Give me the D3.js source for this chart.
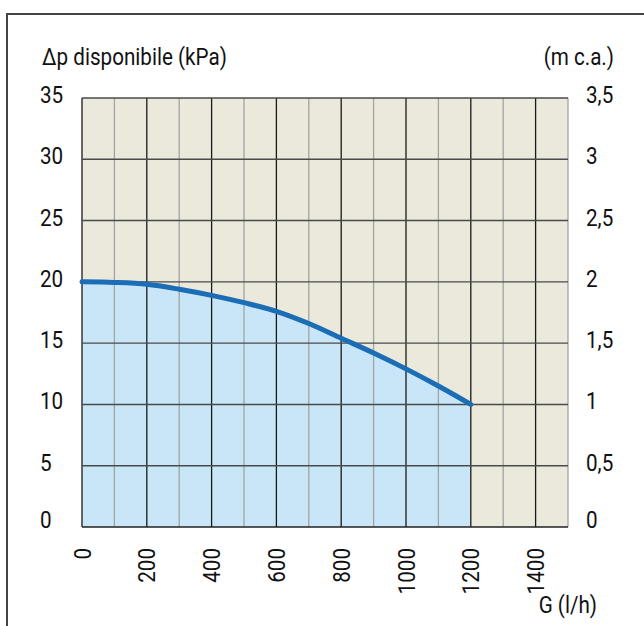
<!DOCTYPE html>
<html>
<head>
<meta charset="utf-8">
<script src="https://cdn.jsdelivr.net/npm/d3@7"></script>
<style>
  body { margin: 0; background: #fff; }
  svg text { font-family: 'Roboto', 'Liberation Sans', sans-serif; font-size: 24px; fill: #111; }
</style>
</head>
<body>
<div class="chart-node"></div>
<script>
const width = 644, height = 626
const squeeze = 0.86   // condensed look of the original lettering

// curve: flow G (l/h) vs available head (kPa)
const flow = [0, 100, 200, 300, 400, 500, 600, 700, 800, 900, 1000, 1100, 1200]
const head = [20, 19.95, 19.8, 19.4, 18.9, 18.3, 17.6, 16.6, 15.4, 14.2, 12.9, 11.5, 10]

const kpaTicks = [0, 5, 10, 15, 20, 25, 30, 35]
const mcaLabels = ['0', '0,5', '1', '1,5', '2', '2,5', '3', '3,5']
const flowTicks = [0, 200, 400, 600, 800, 1000, 1200, 1400]
const gridX = d3.range(0, 1501, 100)

const svg = d3.select('.chart-node').append('svg')
    .attr('width', width)
    .attr('height', height)

const x = d3.scaleLinear().domain([0, 1500]).range([82, 568])
const y = d3.scaleLinear().domain([0, 35]).range([527, 98])

// open frame (only top and left edges are inside the picture)
svg.append('path')
    .attr('d', `M7,${height} L7,14 L${width},14`)
    .attr('fill', 'none')
    .attr('stroke', '#444')
    .attr('stroke-width', 2)

// plot background
svg.append('rect')
    .attr('x', x(0)).attr('y', y(35))
    .attr('width', x(1500) - x(0)).attr('height', y(0) - y(35))
    .attr('fill', '#ebe8dc')

const pts = flow.map((g, i) => ({ g: g, p: head[i] }))

const area = d3.area()
    .x(d => x(d.g))
    .y0(y(0))
    .y1(d => y(d.p))
    .curve(d3.curveMonotoneX)

svg.append('path')
    .datum(pts)
    .attr('d', area)
    .attr('fill', '#c9e6f8')

// vertical grid: darker every 200, grey in between
svg.append('g').selectAll('line')
    .data(gridX)
    .enter().append('line')
    .attr('x1', d => x(d)).attr('x2', d => x(d))
    .attr('y1', y(0)).attr('y2', y(35))
    .attr('stroke', d => d % 200 === 0 ? '#1a1a1a' : '#a3a3a3')
    .attr('stroke-width', 1.3)

// horizontal grid
svg.append('g').selectAll('line')
    .data(kpaTicks)
    .enter().append('line')
    .attr('x1', x(0)).attr('x2', x(1500))
    .attr('y1', d => y(d)).attr('y2', d => y(d))
    .attr('stroke', d => d === 0 ? '#222' : '#4a4a4a')
    .attr('stroke-width', 1.4)

const line = d3.line()
    .x(d => x(d.g))
    .y(d => y(d.p))
    .curve(d3.curveMonotoneX)

svg.append('path')
    .datum(pts)
    .attr('d', line)
    .attr('fill', 'none')
    .attr('stroke', '#1b6db6')
    .attr('stroke-width', 5)
    .attr('stroke-linecap', 'round')

function labelY(d) { return y(d) + (d === 0 ? 1 : 5) }

// left labels (kPa)
svg.append('g').selectAll('text')
    .data(kpaTicks)
    .enter().append('text')
    .attr('transform', d => `translate(40,${labelY(d)}) scale(${squeeze},1)`)
    .text(d => d)

// right labels (m c.a.)
svg.append('g').selectAll('text')
    .data(kpaTicks)
    .enter().append('text')
    .attr('transform', d => `translate(586,${labelY(d)}) scale(${squeeze},1)`)
    .text((d, i) => mcaLabels[i])

// bottom labels, rotated
svg.append('g').selectAll('text')
    .data(flowTicks)
    .enter().append('text')
    .attr('transform', d => `translate(${x(d)},548) rotate(-90) scale(${squeeze},1)`)
    .attr('dy', '0.36em')
    .style('text-anchor', 'end')
    .text(d => d)

svg.append('text')
    .attr('transform', `translate(42,65) scale(${squeeze},1)`)
    .text('\u0394p disponibile (kPa)')

svg.append('text')
    .attr('transform', `translate(614,65) scale(${squeeze},1)`)
    .style('text-anchor', 'end')
    .text('(m c.a.)')

svg.append('text')
    .attr('transform', `translate(597,613) scale(${squeeze},1)`)
    .style('text-anchor', 'end')
    .text('G (l/h)')
</script>
</body>
</html>
